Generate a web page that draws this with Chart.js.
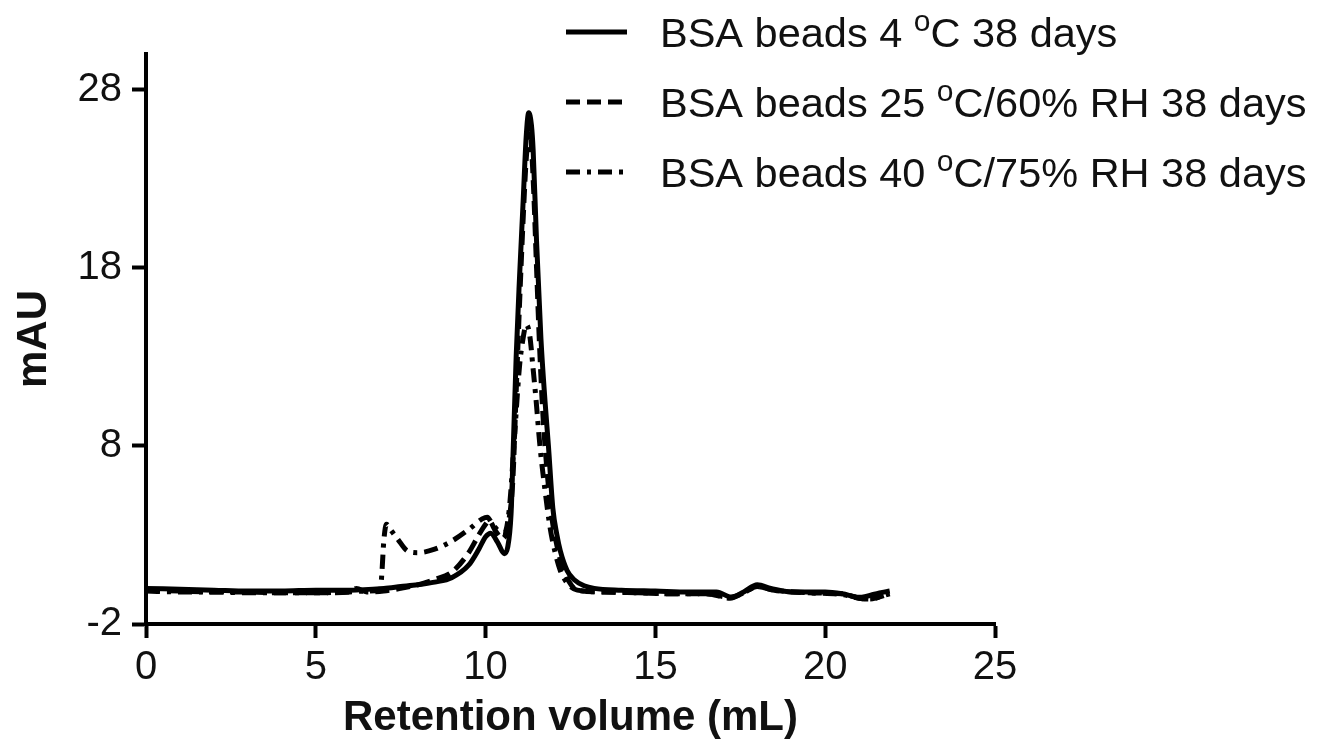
<!DOCTYPE html>
<html>
<head>
<meta charset="utf-8">
<script src="https://cdn.jsdelivr.net/npm/chart.js@4/dist/chart.umd.min.js"></script>
<style>
  body { margin: 0; background: #fff; }
  canvas { display: block; }
</style>
</head>
<body>
<canvas id="secChart" width="1321" height="749"></canvas>
<script>
// === SEC CHROMATOGRAM, BSA BEADS 38 DAYS ===

const seriesLabels = [
    'BSA beads 4 °C 38 days',
    'BSA beads 25 °C/60% RH 38 days',
    'BSA beads 40 °C/75% RH 38 days'
];

// 4 °C
const coldX = [0, 1, 2, 3, 4, 5, 6, 7, 7.5, 8, 8.5, 9, 9.5, 9.8, 10, 10.15, 10.35, 10.55, 10.65, 10.75, 10.8, 10.9, 11, 11.1, 11.2, 11.27, 11.35, 11.4, 11.5, 11.63, 11.75, 11.85, 11.98, 12.1, 12.2, 12.4, 12.6, 12.9, 13.2, 14, 15, 16, 16.8, 17.25, 17.6, 18, 18.4, 19, 20, 20.5, 21, 21.2, 21.6, 21.9];
const coldY = [0, -0.05, -0.1, -0.15, -0.15, -0.1, -0.1, 0, 0.1, 0.2, 0.35, 0.6, 1.3, 2.2, 2.9, 3.1, 2.6, 1.95, 2.3, 4.2, 7, 13, 17.5, 21.5, 25.5, 26.7, 26.0, 24.6, 19.5, 14, 10.5, 8, 4.5, 3.0, 2.1, 1.0, 0.5, 0.15, 0, -0.1, -0.15, -0.2, -0.2, -0.5, -0.2, 0.2, 0, -0.2, -0.2, -0.3, -0.5, -0.45, -0.25, -0.15];

// 25 °C / 60% RH
const midX = [0, 1, 2, 3, 4, 5, 6, 6.2, 6.5, 7, 7.5, 8, 8.5, 9, 9.5, 9.8, 10, 10.1, 10.3, 10.5, 10.65, 10.8, 10.9, 11, 11.1, 11.2, 11.3, 11.4, 11.5, 11.58, 11.68, 11.8, 11.95, 12.1, 12.25, 12.45, 12.7, 13.5, 14.5, 15.5, 16.5, 17.2, 17.6, 18, 18.5, 19.5, 20.5, 21, 21.3, 21.9];
const midY = [-0.1, -0.15, -0.2, -0.2, -0.25, -0.25, -0.2, 0, -0.2, -0.15, 0, 0.2, 0.5, 0.9, 2.0, 3.0, 3.6, 3.8, 3.2, 2.8, 3.5, 6, 11, 16, 20.5, 24.2, 25.8, 23, 18, 14, 10, 6.8, 4.0, 2.4, 1.3, 0.4, -0.1, -0.2, -0.25, -0.3, -0.3, -0.55, -0.25, 0.1, -0.1, -0.25, -0.3, -0.55, -0.6, -0.3];

// 40 °C / 75% RH
const hotX = [0, 1, 2, 3, 4, 5, 6, 6.5, 6.9, 6.95, 7.0, 7.08, 7.2, 7.4, 7.7, 8.0, 8.5, 9.0, 9.5, 9.9, 10.05, 10.2, 10.4, 10.55, 10.7, 10.85, 11.0, 11.1, 11.2, 11.3, 11.4, 11.48, 11.6, 11.75, 11.9, 12.05, 12.2, 12.4, 12.7, 13.5, 14.5, 15.5, 16.5, 17.2, 17.6, 18, 18.5, 19.5, 20.5, 21, 21.3, 21.9];
const hotY = [-0.15, -0.2, -0.2, -0.25, -0.25, -0.25, -0.2, -0.15, -0.1, 1.0, 2.6, 3.6, 3.3, 2.8, 2.1, 2.0, 2.2, 2.65, 3.3, 3.9, 4.0, 3.6, 3.2, 3.1, 4.5, 8.5, 12.5, 14.0, 14.8, 14.2, 12.3, 10.7, 8, 5.5, 3.4, 2.0, 1.0, 0.3, -0.1, -0.2, -0.25, -0.3, -0.3, -0.5, -0.25, 0.1, -0.1, -0.25, -0.35, -0.55, -0.6, -0.3];

const yTicks = [-2, 8, 18, 28];

const dashes = [[], [14, 7], [14, 7, 4, 7]];
const FONT = "'Liberation Sans', Arial, sans-serif";

const toPoints = (xs, ys) => xs.map((x, i) => ({ x, y: ys[i] }));

// legend drawn by hand so the "o" in oC can sit raised
const legendPlugin = {
    id: 'supLegend',
    afterDraw(chart) {
        const ctx = chart.ctx;
        ctx.save();
        chart.data.datasets.forEach((ds, i) => {
            const base = 47 + i * 70;
            const mid = base - 15;
            ctx.strokeStyle = '#000';
            ctx.lineWidth = 5;
            ctx.setLineDash(dashes[i]);
            ctx.beginPath();
            ctx.moveTo(566, mid);
            ctx.lineTo(627, mid);
            ctx.stroke();
            ctx.setLineDash([]);

            const [pre, post] = ds.label.split('°');
            ctx.fillStyle = '#111';
            ctx.textBaseline = 'alphabetic';
            ctx.textAlign = 'left';
            let x = 660;
            ctx.font = `41.5px ${FONT}`;
            ctx.fillText(pre, x, base);
            x += ctx.measureText(pre).width;
            ctx.font = `30px ${FONT}`;
            ctx.fillText('o', x, base - 16);
            x += ctx.measureText('o').width;
            ctx.font = `41.5px ${FONT}`;
            ctx.fillText(post, x, base);
        });
        ctx.restore();
    }
};

const ctx = document.getElementById('secChart').getContext('2d');
new Chart(ctx, {
    type: 'line',
    data: {
        datasets: [
            { label: seriesLabels[0], data: toPoints(coldX, coldY), borderDash: dashes[0] },
            { label: seriesLabels[1], data: toPoints(midX, midY), borderDash: dashes[1] },
            { label: seriesLabels[2], data: toPoints(hotX, hotY), borderDash: dashes[2] }
        ].map(d => ({ ...d, borderColor: '#000', borderWidth: 5, pointRadius: 0, fill: false, cubicInterpolationMode: 'monotone' }))
    },
    options: {
        responsive: false, animation: false,
        layout: { padding: { top: 54, right: 326, left: 0, bottom: 0 } },
        plugins: { legend: { display: false }, tooltip: { enabled: false } },
        scales: {
            x: {
                type: 'linear', min: 0, max: 25,
                ticks: { stepSize: 5, color: '#111', font: { family: FONT, size: 40 }, padding: 6, maxRotation: 0 },
                grid: { drawOnChartArea: false, tickLength: 14, tickWidth: 4, tickColor: '#000' },
                border: { color: '#000', width: 4 },
                title: { display: true, text: 'Retention volume (mL)', color: '#111', font: { family: FONT, size: 42, weight: 'bold' }, padding: { top: 0, bottom: 5 } },
                afterFit: s => { s.height = 125; }
            },
            y: {
                min: -2, max: 30,
                afterBuildTicks: s => { s.ticks = yTicks.map(v => ({ value: v })); },
                ticks: { color: '#111', font: { family: FONT, size: 40 }, padding: 10 },
                grid: { drawOnChartArea: false, tickLength: 14, tickWidth: 4, tickColor: '#000' },
                border: { color: '#000', width: 4 },
                title: { display: true, text: 'mAU', color: '#111', font: { family: FONT, size: 42, weight: 'bold' }, padding: { top: 9, bottom: 0 } },
                afterFit: s => { s.width = 146; }
            }
        }
    },
    plugins: [legendPlugin]
});
</script>
</body>
</html>
